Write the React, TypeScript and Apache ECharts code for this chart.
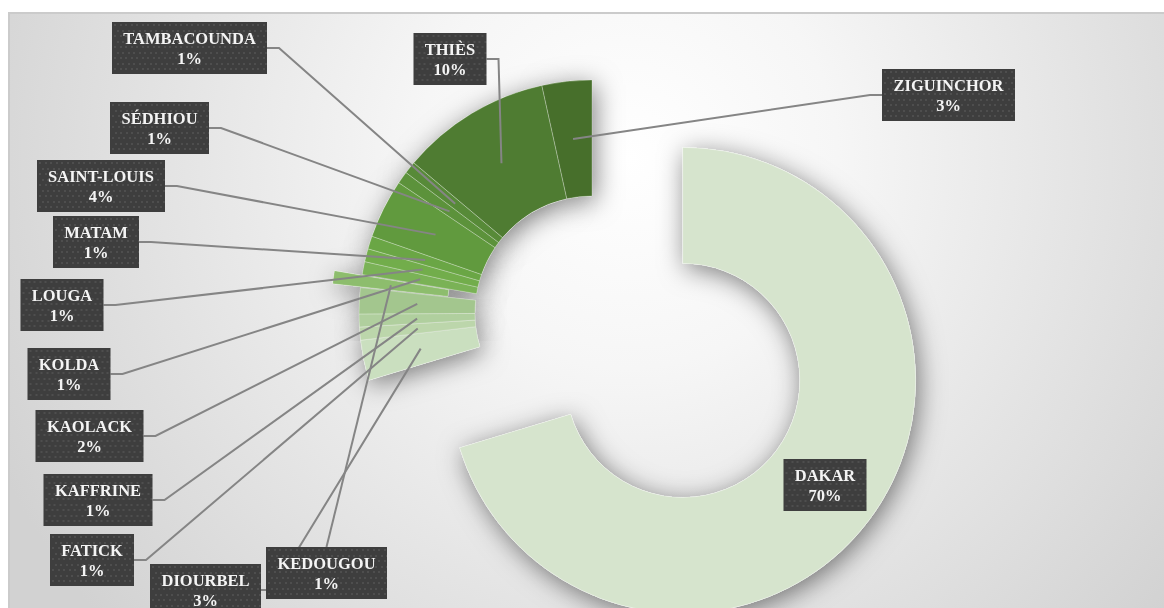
import { useEffect, useRef } from 'react';
import * as echarts from 'echarts';

// ---- data ----
const regions = ['DAKAR', 'DIOURBEL', 'FATICK', 'KAFFRINE', 'KAOLACK', 'KEDOUGOU', 'KOLDA', 'LOUGA', 'MATAM', 'SAINT-LOUIS', 'SÉDHIOU', 'TAMBACOUNDA', 'THIÈS', 'ZIGUINCHOR'];
const shares = [70.3, 2.8, 0.9, 0.9, 1.8, 0.9, 0.9, 0.9, 0.9, 4.1, 0.85, 0.85, 10.4, 3.45];

// ---- styles / layout ----
const sliceColors = ['#d6e4cd', '#cadfbf', '#bcd6ab', '#b0cf9e', '#a3c68e', '#8dbd6d', '#7ab256', '#72ad4b', '#6aa645', '#619a3e', '#5c923b', '#578a38', '#4f7c32', '#476f2b'];
const explodePx = [113, 0, 0, 0, 0, 28, 0, 0, 0, 0, 0, 0, 0, 0];
// label box centre-x and top-y (chart coordinates)
const labelSpots: [number, number][] = [
  [817, 451], [197.5, 556], [84, 526], [90, 466], [81.5, 402], [318.5, 539], [61, 340],
  [54, 271], [88, 208], [93, 152], [151.5, 94], [181.5, 14], [442, 25], [940.5, 61],
];
const leaderFrom = ['none', 'right', 'right', 'right', 'right', 'top', 'right', 'right', 'right', 'right', 'right', 'right', 'right', 'left'];

const CX = 584;
const CY = 305;
const R_IN = 117;
const R_OUT = 233;
const FONT_SIZE = 16.5;
const LINE_H = 20;
const PAD_V = 6;
const PAD_H = 11;
const STUB = 12;
const FONT_FAMILY = "'Liberation Serif', 'DejaVu Serif', serif";

function makeBox(w: number, h: number): string {
  const c = document.createElement('canvas');
  c.width = w;
  c.height = h;
  const g = c.getContext('2d')!;
  g.fillStyle = '#3e3e3e';
  g.fillRect(0, 0, w, h);
  g.fillStyle = '#4e4e4e';
  let row = 0;
  for (let y = 2; y < h; y += 5.5, row++) {
    for (let x = row % 2 ? 4.75 : 2; x < w; x += 5.5) {
      g.fillRect(Math.round(x), Math.round(y), 2, 2);
    }
  }
  return c.toDataURL();
}

export default function App() {
  const ref = useRef<HTMLDivElement>(null);
  useEffect(() => {
    const el = ref.current!;
    const chart = echarts.init(el, undefined, { renderer: 'svg' });

    const total = shares.reduce((a, b) => a + b, 0);
    const mids: number[] = [];
    let acc = 0;
    shares.forEach((v) => {
      mids.push(((acc + v / 2) / total) * Math.PI * 2);
      acc += v;
    });

    const ctx = document.createElement('canvas').getContext('2d')!;
    ctx.font = `bold ${FONT_SIZE}px ${FONT_FAMILY}`;
    const textW = regions.map((n, i) => {
      const pct = `${Math.round((shares[i] / total) * 100)}%`;
      return Math.ceil(Math.max(ctx.measureText(n).width, ctx.measureText(pct).width));
    });
    const boxH = 2 * LINE_H + 2 * PAD_V;
    const boxW = textW.map((w) => w + 2 * PAD_H);
    const imgs = boxW.map((w) => makeBox(w, boxH));

    // centre of each slice (exploded slices are moved along their bisector)
    const centres = regions.map((_, i) => [
      CX + explodePx[i] * Math.sin(mids[i]),
      CY - explodePx[i] * Math.cos(mids[i]),
    ]);

    const groups: { members: number[]; cx: number; cy: number }[] = [
      { members: regions.map((_, i) => i).filter((i) => explodePx[i] === 0), cx: CX, cy: CY },
    ];
    explodePx.forEach((o, i) => {
      if (o > 0) groups.push({ members: [i], cx: centres[i][0], cy: centres[i][1] });
    });

    const RM = (R_IN + R_OUT) / 2;
    const hidden = { color: 'rgba(0,0,0,0)', borderWidth: 0 };
    const base = {
      type: 'pie',
      radius: [R_IN, R_OUT],
      startAngle: 90,
      clockwise: true,
      avoidLabelOverlap: false,
      emphasis: { disabled: true },
    };
    const series: any[] = [];
    groups.forEach((g, gi) => {
      const inG = (i: number) => g.members.includes(i);
      series.push({
        ...base,
        name: 'shadow' + gi,
        z: 1,
        silent: true,
        center: [g.cx, g.cy],
        label: { show: false },
        labelLine: { show: false },
        data: regions.map((name, i) => ({
          name,
          value: shares[i],
          itemStyle: inG(i)
            ? { color: '#ffffff', shadowBlur: 26, shadowColor: 'rgba(0,0,0,0.5)', shadowOffsetX: 3, shadowOffsetY: 5 }
            : hidden,
        })),
      });
      series.push({
        ...base,
        name: 'regions' + gi,
        z: 2,
        silent: true,
        center: [g.cx, g.cy],
        label: { show: false },
        labelLine: { show: false },
        itemStyle: { borderColor: 'rgba(255,255,255,0.45)', borderWidth: 0.6 },
        data: regions.map((name, i) => ({
          name,
          value: shares[i],
          itemStyle: inG(i) ? { color: sliceColors[i] } : hidden,
        })),
      });
    });

    // label layer on top of every slice
    series.push({
      ...base,
      name: 'labels',
      z: 3,
      silent: true,
      center: [CX, CY],
      itemStyle: hidden,
      data: regions.map((name, i) => ({
        name,
        value: shares[i],
        label: {
          show: true,
          position: 'outside',
          overflow: 'none',
          width: textW[i],
          formatter: (p: any) => `${p.name}\n${Math.round(p.percent)}%`,
          color: '#f4f4f4',
          fontFamily: FONT_FAMILY,
          fontWeight: 'bold',
          fontSize: FONT_SIZE,
          lineHeight: LINE_H,
          align: 'center',
          padding: [PAD_V, PAD_H],
          backgroundColor: { image: imgs[i] },
          shadowBlur: 5,
          shadowOffsetX: 3,
          shadowOffsetY: 3,
          shadowColor: 'rgba(0,0,0,0.5)',
        },
        labelLine: {
          show: leaderFrom[i] !== 'none',
          smooth: false,
          lineStyle: { color: '#858585', width: 2 },
        },
      })),
      labelLayout: (p: any) => {
        const i = p.dataIndex;
        const [cxL, top] = labelSpots[i];
        const w = boxW[i];
        const left = cxL - w / 2;
        const midY = top + boxH / 2;
        const tip = [centres[i][0] + RM * Math.sin(mids[i]), centres[i][1] - RM * Math.cos(mids[i])];
        const res: any = { x: cxL, y: top, align: 'center', verticalAlign: 'top', width: textW[i] };
        const a = leaderFrom[i];
        if (a === 'right') res.labelLinePoints = [[left + w, midY], [left + w + STUB, midY], tip];
        else if (a === 'left') res.labelLinePoints = [[left, midY], [left - STUB, midY], tip];
        else if (a === 'top') res.labelLinePoints = [[cxL, top], [cxL, top], tip];
        return res;
      },
    });

    chart.setOption({
      animation: false,
      graphic: [
        {
          type: 'rect',
          z: -10,
          silent: true,
          shape: { x: 1, y: 5, width: 1300, height: 800 },
          style: {
            fill: new echarts.graphic.RadialGradient(620, 150, 700, [
              { offset: 0, color: '#ffffff' },
              { offset: 0.3, color: '#f6f6f6' },
              { offset: 1, color: '#d2d2d2' },
            ], true),
            stroke: '#cbcbcb',
            lineWidth: 2,
          },
        },
      ],
      series,
    });
    return () => chart.dispose();
  }, []);
  return <div ref={ref} style={{ position: 'fixed', left: 8, top: 8, width: 1156, height: 600 }} />;
}
